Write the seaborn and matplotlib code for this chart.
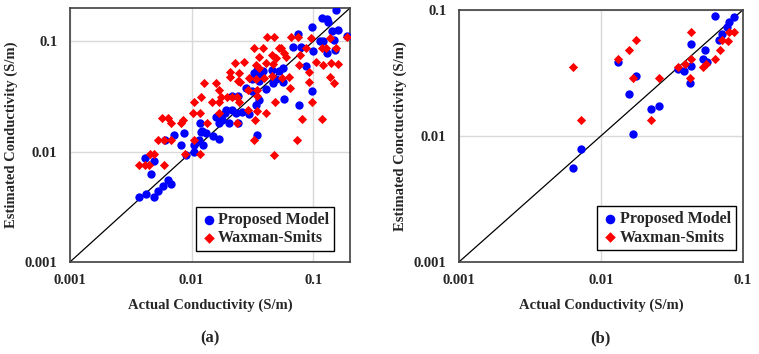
import matplotlib
matplotlib.use("Agg")
import matplotlib.pyplot as plt
import seaborn as sns
import pandas as pd

# ---- panel (a) ----
a_prop_x = [0.153, 0.118, 0.129, 0.133, 0.098, 0.158, 0.142, 0.19, 0.075, 0.113, 0.121, 0.149,
            0.0686, 0.1, 0.13, 0.15, 0.0798, 0.087, 0.0561, 0.052, 0.0453, 0.0343, 0.0366, 0.0384,
            0.0327, 0.0494, 0.0561, 0.028, 0.031, 0.0976,
            0.0213, 0.0242, 0.036, 0.0339, 0.019, 0.0213, 0.0232, 0.0257, 0.0297, 0.0159, 0.0174,
            0.0167, 0.0203, 0.031, 0.0357, 0.041,
            0.0568, 0.076, 0.0465,
            0.0037, 0.0042, 0.0049, 0.00533, 0.0058, 0.0064, 0.0068, 0.0046, 0.0041, 0.0049,
            0.0071, 0.006, 0.0082, 0.0086, 0.0089, 0.0104, 0.0105, 0.0115, 0.0119, 0.0122, 0.0132,
            0.0125, 0.0151, 0.0167, 0.0117, 0.0176, 0.0238, 0.0346, 0.0167, 0.0188]
a_prop_y = [0.19, 0.161, 0.158, 0.15, 0.134, 0.127, 0.123, 0.112, 0.115, 0.1, 0.1, 0.103,
            0.0895, 0.081, 0.0778, 0.0835, 0.0895, 0.0593, 0.0573, 0.0534, 0.055, 0.055, 0.0498, 0.0534,
            0.0516, 0.0451, 0.0427, 0.0377, 0.0351, 0.0356,
            0.0316, 0.0321, 0.0295, 0.0264, 0.0236, 0.024, 0.0224, 0.023, 0.0217, 0.0205, 0.0202,
            0.0183, 0.0181, 0.0453, 0.0436, 0.0369,
            0.0299, 0.0264, 0.042,
            0.0039, 0.0041, 0.0039, 0.0044, 0.0049, 0.0055, 0.0051, 0.0063, 0.0087, 0.0083,
            0.0141, 0.0128, 0.0114, 0.0147, 0.0094, 0.0099, 0.0114, 0.0126, 0.0149, 0.0153, 0.0147,
            0.0114, 0.0137, 0.0129, 0.0181, 0.0194, 0.0181, 0.0141, 0.0211, 0.0224]

a_wax_x = [0.0414, 0.0476, 0.0652, 0.095, 0.137, 0.188, 0.118, 0.128, 0.153, 0.0327, 0.0384, 0.054,
           0.087, 0.036, 0.0453, 0.0494, 0.0573, 0.0595, 0.0775, 0.027, 0.0339, 0.036, 0.041, 0.0465,
           0.076, 0.106, 0.121, 0.14, 0.158, 0.0297, 0.0339, 0.039, 0.0453, 0.0553, 0.0633, 0.0927,
           0.0913, 0.137, 0.147, 0.0646, 0.025, 0.075, 0.052,
           0.0229, 0.0205, 0.0245, 0.0205, 0.0242, 0.0127, 0.0157, 0.0167, 0.0119, 0.0174, 0.0194,
           0.0213, 0.0235, 0.0105, 0.0148, 0.0245, 0.0343, 0.029, 0.0343, 0.041, 0.0103, 0.0118,
           0.0169, 0.00676, 0.0085, 0.0235, 0.029, 0.0343,
           0.0487, 0.0976, 0.0806, 0.118, 0.0735, 0.0476, 0.0324, 0.033,
           0.00575, 0.0064, 0.0082, 0.0169, 0.0133, 0.00526, 0.00597, 0.00676, 0.0104,
           0.00453, 0.00488, 0.00366, 0.0041, 0.00442, 0.00597, 0.0088, 0.0118]
a_wax_y = [0.11, 0.11, 0.11, 0.107, 0.107, 0.11, 0.087, 0.087, 0.086, 0.087, 0.087, 0.087,
           0.087, 0.0726, 0.0757, 0.0706, 0.0778, 0.0726, 0.0757, 0.065, 0.0614, 0.0573, 0.0628, 0.0617,
           0.0614, 0.065, 0.0605, 0.063, 0.0617, 0.0465, 0.0458, 0.0465, 0.0485, 0.0465, 0.0472, 0.0527,
           0.0427, 0.0472, 0.0421, 0.0377, 0.0427, 0.11, 0.0868,
           0.0636, 0.0529, 0.052, 0.0475, 0.0436, 0.0419, 0.0419, 0.0364, 0.0312, 0.0312, 0.0312,
           0.0312, 0.0312, 0.0283, 0.0283, 0.0283, 0.0321, 0.0239, 0.0233, 0.0224, 0.0224, 0.0224,
           0.0224, 0.0183, 0.0194, 0.0183, 0.0364, 0.0358,
           0.0283, 0.0283, 0.0197, 0.0197, 0.0126, 0.0094, 0.0126, 0.0193,
           0.02, 0.02, 0.0181, 0.0279, 0.0181, 0.0126, 0.0126, 0.0126, 0.0126,
           0.00953, 0.00953, 0.00762, 0.00754, 0.00762, 0.00754, 0.00953, 0.00953]

# ---- panel (b) ----
b_prop_x = [0.0638, 0.0864, 0.0801, 0.0768, 0.0711, 0.0681, 0.0432, 0.0543, 0.0526, 0.0555, 0.0432,
            0.0349, 0.0385, 0.0424, 0.0132, 0.0178, 0.0158, 0.0224, 0.0258, 0.0167, 0.00727, 0.00632]
b_prop_y = [0.0891, 0.0871, 0.0799, 0.0733, 0.0641, 0.0574, 0.0541, 0.0479, 0.0408, 0.0389, 0.0362,
            0.0337, 0.0328, 0.0261, 0.0385, 0.0301, 0.0214, 0.0164, 0.0174, 0.0104, 0.00794, 0.00561]
b_wax_x = [0.0432, 0.0801, 0.0864, 0.0719, 0.079, 0.0178, 0.0158, 0.0132, 0.0689, 0.0638, 0.0432,
           0.0549, 0.052, 0.0349, 0.0389, 0.00632, 0.0169, 0.0258, 0.0424, 0.00727, 0.0224]
b_wax_y = [0.0665, 0.0665, 0.0665, 0.0574, 0.0567, 0.0574, 0.0485, 0.0408, 0.0485, 0.0408, 0.0408,
           0.037, 0.0353, 0.0353, 0.037, 0.0353, 0.029, 0.029, 0.029, 0.0135, 0.0135]

sns.set_style("whitegrid")
plt.rcParams['font.family'] = ['Liberation Serif', 'DejaVu Serif']
plt.rcParams['font.weight'] = 'bold'

fig = plt.figure(figsize=(7.59, 3.54), dpi=100)
ax1 = fig.add_axes([0.0922, 0.26, 0.369, 0.7175])
ax2 = fig.add_axes([0.6047, 0.26, 0.374, 0.712])


def draw_panel(ax, px, py, wx, wy, hi, ylabel, tag, leg_anchor):
    prop = pd.DataFrame({'x': px, 'y': py})
    wax = pd.DataFrame({'x': wx, 'y': wy})
    ax.set_xscale('log')
    ax.set_yscale('log')
    ax.plot([0.001, hi], [0.001, hi], color='black', lw=0.9, zorder=1)
    sns.scatterplot(data=prop, x='x', y='y', ax=ax, color='#0000ff', marker='o',
                    s=36, linewidth=0, label='Proposed Model', zorder=3)
    sns.scatterplot(data=wax, x='x', y='y', ax=ax, color='#ff0000', marker='D',
                    s=22, linewidth=0, label='Waxman-Smits', zorder=4)
    ax.set_xlim(0.001, hi)
    ax.set_ylim(0.001, hi)
    ax.set_xticks([0.001, 0.01, 0.1])
    ax.set_xticklabels(['0.001', '0.01', '0.1'])
    ax.set_yticks([0.001, 0.01, 0.1])
    ax.set_yticklabels(['0.001', '0.01', '0.1'])
    ax.minorticks_off()
    ax.grid(True, color='#d9d9d9', lw=1)
    ax.tick_params(length=0, labelsize=10.5, pad=9)
    for sp in ax.spines.values():
        sp.set_color('#404040')
        sp.set_linewidth(1.2)
    ax.set_xlabel('Actual Conductivity (S/m)', fontsize=10.5, fontweight='bold', labelpad=8)
    ax.set_ylabel(ylabel, fontsize=10.5, fontweight='bold', labelpad=5)
    pos = ax.get_position()
    fig.text((pos.x0 + pos.x1) / 2, 1 - 338 / 354, tag, ha='center', va='center',
             fontsize=12, fontweight='bold')
    leg = ax.legend(loc='lower right', bbox_to_anchor=leg_anchor, borderaxespad=0,
                    fancybox=False, framealpha=1, edgecolor='black',
                    prop={'weight': 'bold', 'size': 11.5}, handletextpad=0.1,
                    handlelength=1.0, borderpad=0.3, labelspacing=0.15, markerscale=1.15)
    leg.get_frame().set_linewidth(1.0)


draw_panel(ax1, a_prop_x, a_prop_y, a_wax_x, a_wax_y, 0.2,
           'Estimated Conductivity (S/m)', '(a)', (0.943, 0.043))
draw_panel(ax2, b_prop_x, b_prop_y, b_wax_x, b_wax_y, 0.1,
           'Estimated Conctuctivity (S/m)', '(b)', (0.975, 0.046))

plt.savefig('out.png', dpi=100)
